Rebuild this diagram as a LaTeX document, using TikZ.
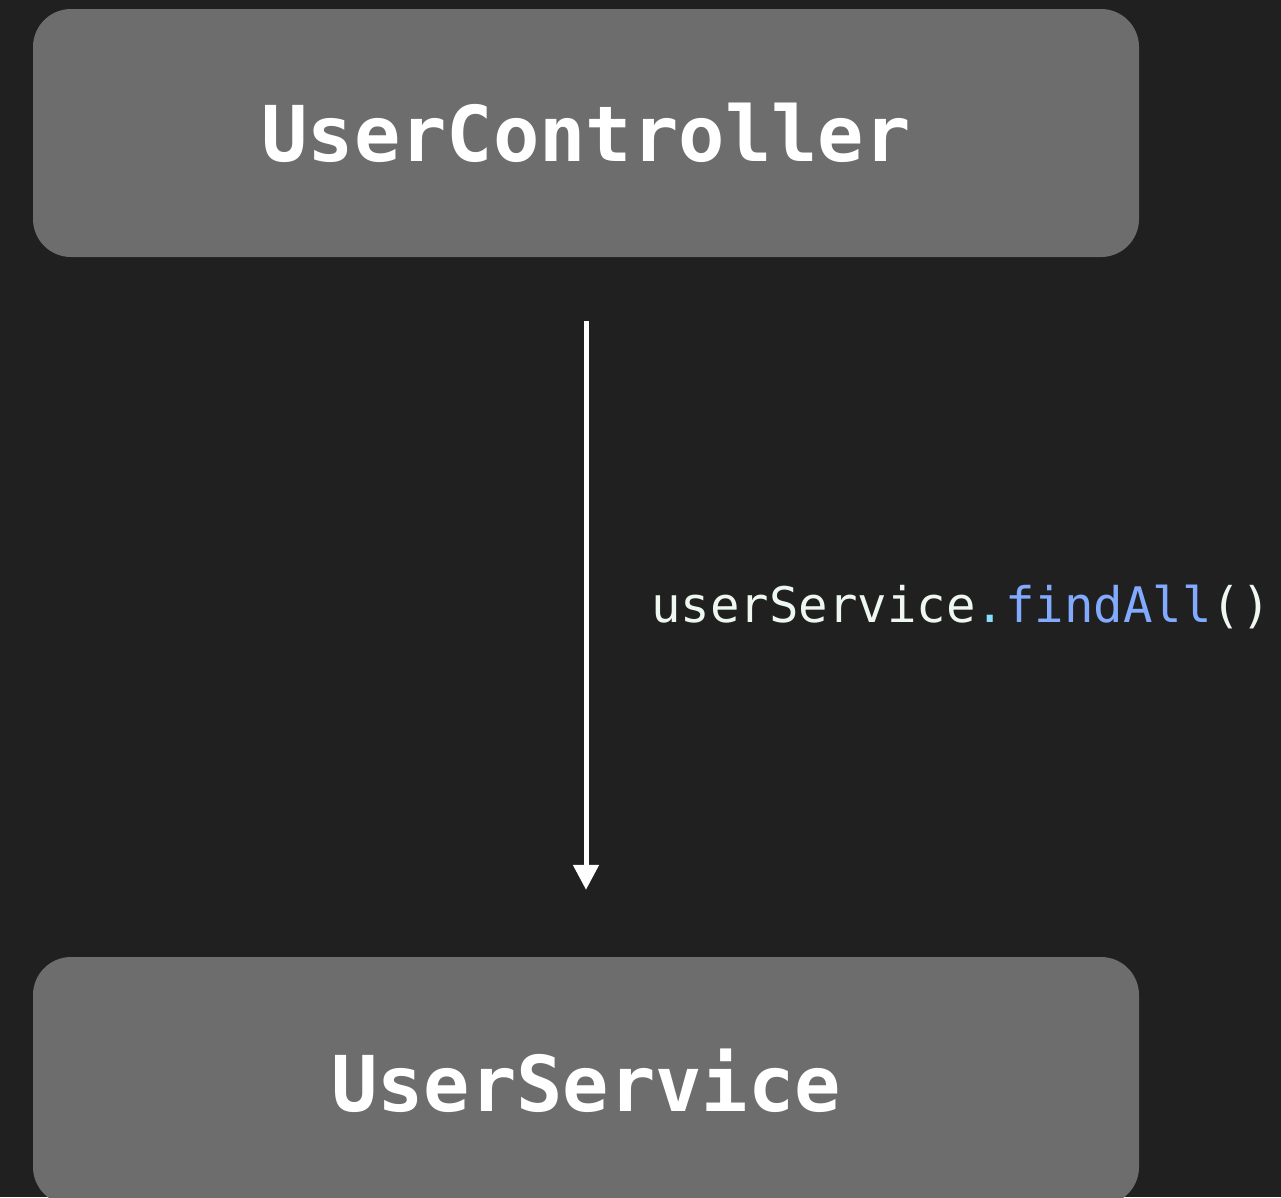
\documentclass[tikz,border=0pt]{standalone}
\usepackage{fontspec}
\setmonofont{DejaVu Sans Mono}
\usetikzlibrary{arrows.meta}
\definecolor{bgdark}{HTML}{202020}
\definecolor{boxgray}{HTML}{6D6D6D}
\definecolor{codewhite}{HTML}{EEF8F0}
\definecolor{codedot}{HTML}{89DDFF}
\definecolor{codeblue}{HTML}{82AAFF}
\tikzset{
  classbox/.style={fill=boxgray, draw=none, rounded corners=38pt,
    minimum width=1106pt, minimum height=248pt, inner sep=0pt,
    text=white, font=\fontsize{77}{80}\selectfont\ttfamily\bfseries},
  callarrow/.style={draw=white, line width=5pt,
    -{Triangle[width=25pt,length=25pt]}},
  calllabel/.style={anchor=base west, inner sep=0pt,
    font=\fontsize{49}{52}\selectfont\ttfamily}
}
\begin{document}
\begin{tikzpicture}[x=1pt,y=-1pt]
  \fill[bgdark] (0,0) rectangle (1281,1197);
  \useasboundingbox (0,0) rectangle (1281,1197);
  % the two components
  \node[classbox] (ctrl) at (586,133) {UserController};
  \node[classbox] (svc) at (586,1081) {UserService};
  % the call between them
  \draw[callarrow, shorten <=64pt, shorten >=67pt] (ctrl.south) -- (svc.north);
  \node[calllabel] (call) at (651,622)
    {\textcolor{codewhite}{userService}\textcolor{codedot}{.}\textcolor{codeblue}{findAll}\textcolor{codewhite}{()}};
\end{tikzpicture}
\end{document}
